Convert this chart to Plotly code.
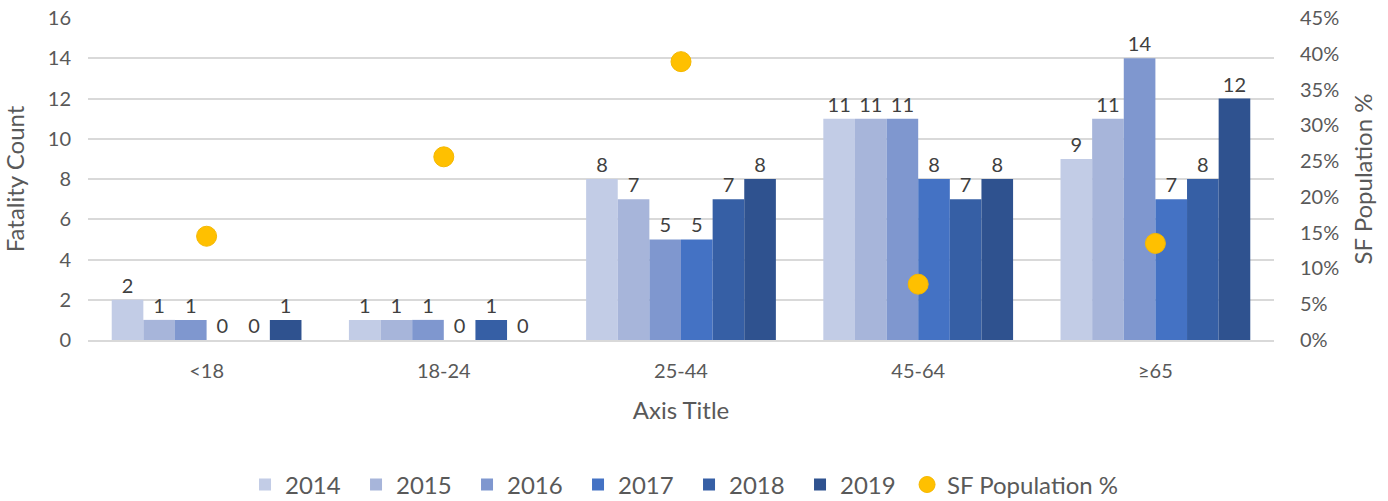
import plotly.graph_objects as go

categories = ["<18", "18-24", "25-44", "45-64", "≥65"]
years = ["2014", "2015", "2016", "2017", "2018", "2019"]
counts = {
    "2014": [2, 1, 8, 11, 9],
    "2015": [1, 1, 7, 11, 11],
    "2016": [1, 1, 5, 11, 14],
    "2017": [0, 0, 5, 8, 7],
    "2018": [0, 1, 7, 7, 8],
    "2019": [1, 0, 8, 8, 12],
}
sf_population = [0.145, 0.256, 0.389, 0.078, 0.135]
colors = ["#C2CCE6", "#A7B5DA", "#7F97CF", "#4472C4", "#365FA5", "#2F528F"]

FONT = "Lato"
fig = go.Figure()
for y, c in zip(years, colors):
    fig.add_trace(go.Bar(
        x=categories, y=counts[y], name=y,
        marker=dict(color=c, line=dict(width=0)),
        text=[str(v) for v in counts[y]], textposition="outside",
        textfont=dict(size=20, color="#404040", family=FONT),
        cliponaxis=False,
    ))
fig.add_trace(go.Scatter(
    x=categories, y=sf_population, name="SF Population %", mode="markers",
    marker=dict(color="#FFC000", size=20, line=dict(color="#F5B800", width=1)),
    yaxis="y2", legend="legend2",
))

fig.update_layout(
    width=1388, height=501,
    margin=dict(l=88, r=114, t=18, b=161, autoexpand=False),
    paper_bgcolor="white", plot_bgcolor="white",
    font=dict(family=FONT, color="#595959", size=20),
    barmode="group", bargap=0.2, bargroupgap=0,
    xaxis=dict(
        title=dict(text="Axis Title", font=dict(size=24, color="#595959"), standoff=21),
        showline=True, linecolor="#D9D9D9", linewidth=1.5, automargin=False,
        ticks="", tickfont=dict(size=20, color="#595959"), ticklabelstandoff=12,
    ),
    yaxis=dict(
        title=dict(text="Fatality Count", font=dict(size=24, color="#595959"), standoff=27),
        range=[0, 16], dtick=2, showgrid=True, gridcolor="#D9D9D9", gridwidth=1.5,
        zeroline=False, tickfont=dict(size=20, color="#595959"), automargin=False,
        ticklabelstandoff=16, ticklabeloverflow="allow",
    ),
    yaxis2=dict(
        title=dict(text="SF Population %", font=dict(size=24, color="#595959"), standoff=16),
        overlaying="y", side="right", range=[0, 0.45], dtick=0.05, tickformat=".0%",
        showgrid=False, zeroline=False, tickfont=dict(size=20, color="#595959"),
        automargin=False, ticklabelstandoff=25, ticklabeloverflow="allow",
    ),
    legend=dict(
        orientation="h", x=0.1324, xanchor="left", y=-0.45, yanchor="middle",
        font=dict(size=24, color="#595959"), itemwidth=30, traceorder="normal",
        entrywidth=66, entrywidthmode="pixels",
    ),
    legend2=dict(
        orientation="h", x=0.6906, xanchor="left", y=-0.45, yanchor="middle",
        font=dict(size=24, color="#595959"), itemwidth=30,
    ),
    showlegend=True,
)
fig.write_html("out.html", config={"displayModeBar": False},
               post_script="document.body.style.margin='0';")
